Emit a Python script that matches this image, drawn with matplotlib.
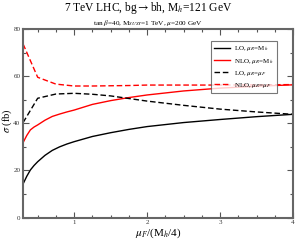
import matplotlib
matplotlib.use('Agg')
import matplotlib.pyplot as plt

plt.rcParams['font.family'] = 'Liberation Serif'
plt.rcParams['mathtext.fontset'] = 'stix'

# mu_F / (M_h/4)
x_lo = [0.3, 0.35, 0.4, 0.45, 0.5, 0.6, 0.7, 0.8, 0.9, 1.0, 1.25, 1.5, 1.75, 2.0, 2.5, 3.0, 3.5, 4.0]
lo_mh = [14.3, 17.5, 20.2, 22.1, 23.7, 26.4, 28.5, 30.0, 31.2, 32.2, 34.4, 36.0, 37.4, 38.6, 40.3, 41.6, 42.8, 43.8]
nlo_mh = [31.8, 34.8, 37.2, 38.4, 39.3, 41.3, 42.9, 43.9, 44.8, 45.6, 48.0, 49.6, 50.9, 52.0, 53.7, 54.9, 55.7, 56.3]

x_dash = [0.3, 0.5, 0.75, 1.0, 1.25, 1.5, 1.75, 2.0, 2.5, 3.0, 3.5, 4.0]
lo_muf = [40.3, 50.6, 52.4, 52.7, 52.3, 51.6, 50.5, 49.4, 47.6, 46.0, 44.8, 43.8]
nlo_muf = [73.6, 59.5, 56.6, 55.8, 55.8, 55.9, 56.0, 56.2, 56.2, 56.2, 56.3, 56.4]

fig = plt.figure(figsize=(2.96, 2.41), dpi=100)
ax = fig.add_axes([0.078, 0.097, 0.912, 0.783])

ax.plot(x_lo, lo_mh, 'k-', lw=1.0, label=r'LO, $\mu_R$=M$_h$')
ax.plot(x_lo, nlo_mh, 'r-', lw=1.0, label=r'NLO, $\mu_R$=M$_h$')
ax.plot(x_dash, lo_muf, 'k--', lw=1.0, dashes=(4, 2), label=r'LO, $\mu_R$=$\mu_F$')
ax.plot(x_dash, nlo_muf, 'r--', lw=1.0, dashes=(4, 2), label=r'NLO, $\mu_R$=$\mu_F$')

ax.set_xlim(0.3, 4)
ax.set_ylim(0, 80)
ax.set_xticks([1, 2, 3, 4])
ax.set_xticks([0.5, 0.75, 1.25, 1.5, 1.75, 2.25, 2.5, 2.75, 3.25, 3.5, 3.75], minor=True)
ax.set_yticks([0, 20, 40, 60, 80])
ax.set_yticks([10, 30, 50, 70], minor=True)
ax.tick_params(which='both', direction='in', top=True, right=True, labelsize=5,
               color='#555555', labelcolor='#333333', width=0.8, pad=2)
ax.tick_params(which='major', length=4)
ax.tick_params(which='minor', length=2)
for s in ax.spines.values():
    s.set_color('#666666')
    s.set_linewidth(1.5)

ax.set_xlabel(r'$\mu_F$/(M$_h$/4)', fontsize=8, labelpad=1)
fig.text(0.026, 0.5, r'$\sigma$ (fb)', rotation=90, ha='center', va='center', fontsize=7.5)

fig.text(0.5, 0.966, r'7 TeV LHC, bg$\rightarrow$bh, M$_h$=121 GeV', ha='center', va='center', fontsize=8.3)
fig.text(0.5, 0.905, r'tan $\beta$=40, M$_{SUSY}$=1 TeV, $\mu$=200 GeV', ha='center', va='center', fontsize=5.2)

leg = ax.legend(loc='upper right', bbox_to_anchor=(0.94, 0.936), fontsize=5, frameon=True, fancybox=False,
                edgecolor='#555555', handlelength=2.2, borderpad=0.5, labelspacing=0.45, handletextpad=0.6,
                borderaxespad=0)
leg.get_frame().set_linewidth(0.8)

fig.savefig('out.png', dpi=100)
